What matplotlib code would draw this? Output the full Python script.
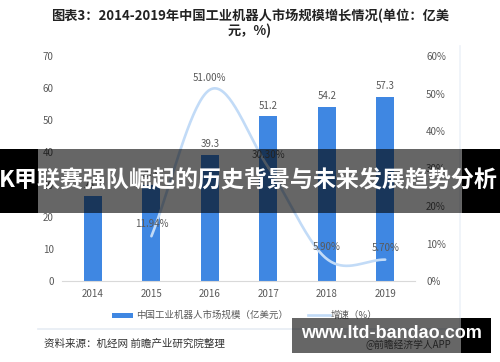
"""
Recreate the 2014-2019 China industrial robot market chart (bars + smoothed growth line),
including the banner and watermark overlays of the reference picture.
"""
import numpy as np
import matplotlib
matplotlib.use("Agg")
import matplotlib.pyplot as plt
from matplotlib.patches import Rectangle
from matplotlib.lines import Line2D

plt.rcParams["font.family"] = ["Noto Sans CJK SC", "DejaVu Sans"]

W, H = 500, 362

years = ["2014", "2015", "2016", "2017", "2018", "2019"]
market_size = [26.6, 29.9, 39.3, 51.2, 54.2, 57.3]
growth_years = ["2015", "2016", "2017", "2018", "2019"]
growth_pct = [11.94, 51.00, 30.30, 5.90, 5.70]
left_ticks = [0, 10, 20, 30, 40, 50, 60, 70]
right_ticks = [0, 10, 20, 30, 40, 50, 60]

title = "图表3：2014-2019年中国工业机器人市场规模增长情况(单位：亿美\n元，%)"
source = "资料来源：机经网 前瞻产业研究院整理"
credit = "@前瞻经济学人APP"
legend_bar = "中国工业机器人市场规模（亿美元）"
legend_line = "增速（%）"
banner = "K甲联赛强队崛起的历史背景与未来发展趋势分析"
site = "www.ltd-bandao.com"

BAR = "#3F87E2"
LINE = "#C2DBF7"
TICK = "#595959"


def px(x, y):
    """pixel position (top-left origin) -> figure fraction"""
    return x / W, 1 - y / H


def catmull_rom(xs, ys, n=40):
    xs = np.asarray(xs, float)
    ys = np.asarray(ys, float)
    px_ = np.concatenate([[2 * xs[0] - xs[1]], xs, [2 * xs[-1] - xs[-2]]])
    py_ = np.concatenate([[2 * ys[0] - ys[1]], ys, [2 * ys[-1] - ys[-2]]])
    out_x, out_y = [], []
    t = np.linspace(0, 1, n)
    for i in range(1, len(px_) - 2):
        for arr, out in ((px_, out_x), (py_, out_y)):
            p0, p1, p2, p3 = arr[i - 1], arr[i], arr[i + 1], arr[i + 2]
            out.extend(0.5 * ((2 * p1) + (-p0 + p2) * t
                              + (2 * p0 - 5 * p1 + 4 * p2 - p3) * t ** 2
                              + (-p0 + 3 * p1 - 3 * p2 + p3) * t ** 3))
    return np.array(out_x), np.array(out_y)


fig = plt.figure(figsize=(W / 100, H / 100), dpi=100)

x0, y1 = px(62, 281)
x1, y0 = px(415, 56)
ax = fig.add_axes([x0, y1, x1 - x0, y0 - y1])
ax2 = ax.twinx()

xpos = np.arange(len(years))
ax.bar(xpos, market_size, width=0.31, color=BAR, zorder=2)
for xi, v in zip(xpos, market_size):
    ax.annotate(f"{v:.1f}", (xi, v), xytext=(0, 4), textcoords="offset points",
                ha="center", va="bottom", fontsize=7, color=TICK)

ax.set_xlim(-0.53, 5.51)
ax.set_ylim(0, 70)
ax.set_yticks(left_ticks)
ax.set_xticks(xpos, years)

gx = np.array([years.index(y) for y in growth_years])
sx, sy = catmull_rom(gx, growth_pct)
ax2.plot(sx, sy, color=LINE, lw=1.9, solid_capstyle="round", zorder=3)
for xi, v in zip(gx, growth_pct):
    ax2.annotate(f"{v:.2f}%", (xi, v), xytext=(0, 5), textcoords="offset points",
                 ha="center", va="bottom", fontsize=7, color=TICK)
ax2.set_ylim(0, 60)
ax2.set_yticks(right_ticks, [f"{t}%" for t in right_ticks])

for a in (ax, ax2):
    for s in a.spines.values():
        s.set_visible(False)
    a.tick_params(length=0, labelsize=7, labelcolor=TICK)
ax.spines["bottom"].set_visible(True)
ax.spines["bottom"].set_color("#D9D9D9")
ax.tick_params(axis="y", pad=6)
ax.tick_params(axis="x", pad=6)
ax2.tick_params(axis="y", pad=8)

# title
tx, ty = px(250, 9)
fig.text(tx, ty, title, ha="center", va="top", fontsize=9.5, fontweight="bold",
         color="#222222", linespacing=1.05)

# legend (placed by hand)
lx, ly = px(112, 315)
fig.add_artist(Rectangle((lx, ly - 2.5 / H), 21 / W, 5 / H, transform=fig.transFigure,
                         color=BAR, lw=0))
fig.text(*px(136, 315), legend_bar, ha="left", va="center", fontsize=6.8, color=TICK)
a, b = px(308, 315)
c, _ = px(330, 315)
fig.add_artist(Line2D([a, c], [b, b], transform=fig.transFigure, color=LINE, lw=1.9))
fig.text(*px(331, 315), legend_line, ha="left", va="center", fontsize=6.8, color=TICK)

# frame lines of the chart picture
a, b = px(38, 329)
c, _ = px(460, 329)
fig.add_artist(Line2D([a, c], [b, b], transform=fig.transFigure, color="#E6ECF4", lw=1.2))
a, b = px(460, 46)
_, d = px(460, 329)
fig.add_artist(Line2D([a, a], [b, d], transform=fig.transFigure, color="#EEF2F8", lw=1.2))

fig.text(*px(44, 344), source, ha="left", va="center", fontsize=7.6, color="#333333")
fig.text(*px(366, 345), credit, ha="left", va="center", fontsize=7, color="#555555")

# banner overlay
for (bx0, bx1, alpha) in ((0, 38, 1.0), (38, 462, 0.6), (462, 500, 1.0)):
    rx, ry = px(bx0, 213)
    fig.add_artist(Rectangle((rx, ry), (bx1 - bx0) / W, 64 / H, transform=fig.transFigure,
                             color="black", alpha=alpha, lw=0, zorder=10))
fig.text(*px(248, 181), banner, ha="center", va="center", fontsize=16.6,
         fontweight="bold", color="white", zorder=11)

# site watermark box
for (bx0, bx1, alpha) in ((292, 461, 0.6), (461, 491, 1.0)):
    rx, ry = px(bx0, 353)
    fig.add_artist(Rectangle((rx, ry), (bx1 - bx0) / W, 35 / H, transform=fig.transFigure,
                             color="black", alpha=alpha, lw=0, zorder=10))
fig.text(*px(391, 334), site, ha="center", va="center", fontsize=13,
         fontweight="bold", color="white", family="Liberation Sans", zorder=11)

fig.savefig("out.png", dpi=100)
